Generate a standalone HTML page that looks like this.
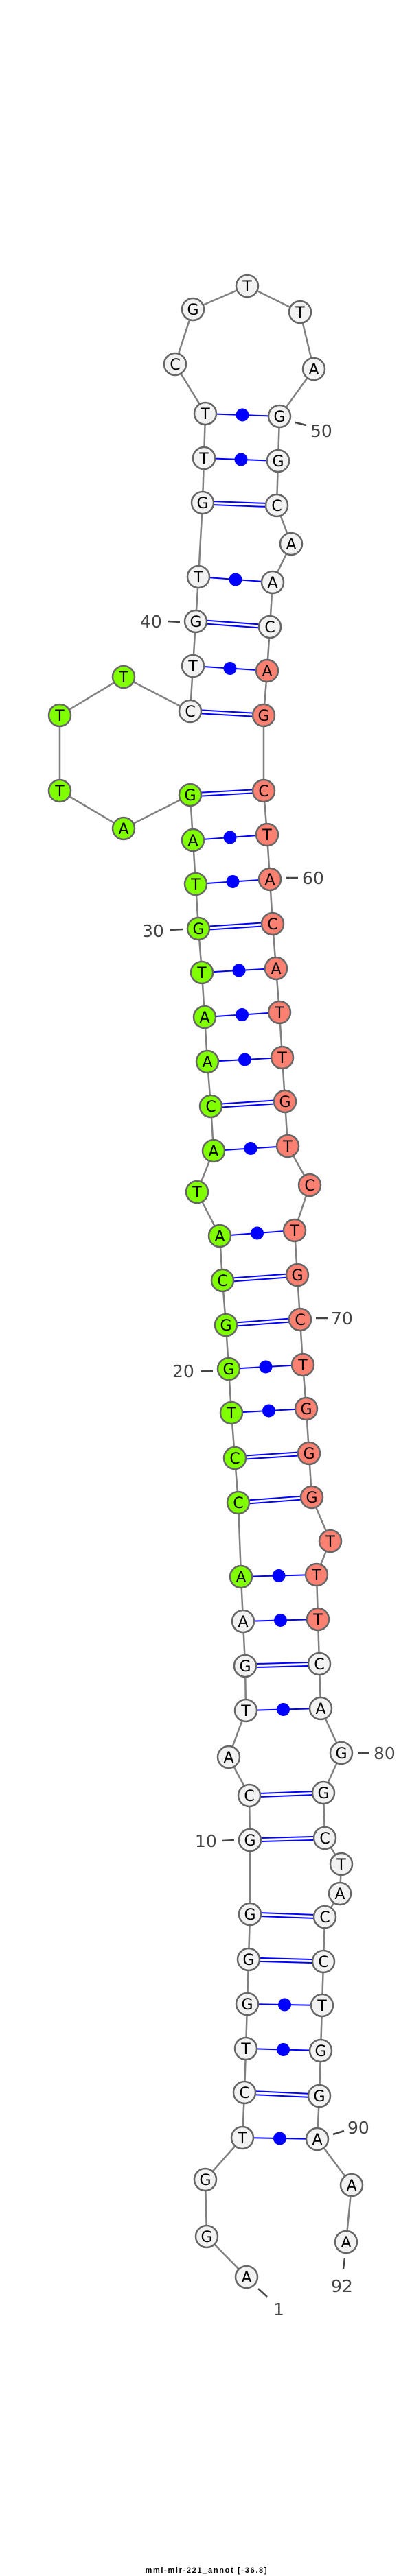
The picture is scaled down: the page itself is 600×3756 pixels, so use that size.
<!DOCTYPE html>
<html><head><meta charset="utf-8"><style>
html,body{margin:0;padding:0;background:#fff;}
svg{display:block;}
.n{stroke:#666;stroke-width:2.5;}
.w{fill:#f2f2f2;}.g{fill:#7fff00;}.r{fill:#fa8072;}
.t{font-family:"DejaVu Sans","Liberation Sans",sans-serif;font-size:22px;text-anchor:middle;fill:#000;}
.l{font-family:"DejaVu Sans","Liberation Sans",sans-serif;font-size:25px;fill:#444;}
.p{stroke:#00f;stroke-width:2;fill:none;}
.k{stroke:#444;stroke-width:2.5;}
</style></head><body>
<svg width="600" height="3756" viewBox="0 0 600 3756" xmlns="http://www.w3.org/2000/svg">
<polyline fill="none" stroke="#808080" stroke-width="2.5" points="359,3320 301,3261 299,3178 353,3117 356,3051 358,2987 360,2922 362,2857 364,2791 364,2683 363,2618 333,2562 358,2494 357,2429 354,2364 351,2299 347,2191 342,2126 337,2060 333,1996 329,1932 324,1867 320,1802 287,1738 311,1678 307,1613 302,1548 298,1483 294,1418 289,1354 285,1289 281,1225 277,1159 180,1208 87,1153 87,1043 180,987 277,1037 281,971 285,906 289,841 295,733 297,668 299,603 255,531 281,451 360,417 437,455 457,538 407,607 405,672 403,737 424,793 397,849 393,914 389,978 384,1043 384,1153 389,1217 393,1282 397,1347 402,1412 407,1476 411,1542 415,1606 419,1671 451,1728 429,1794 433,1859 437,1924 441,1990 446,2054 450,2119 454,2183 481,2247 461,2296 463,2361 465,2426 467,2491 497,2556 471,2614 473,2680 497,2718 495,2761 473,2795 471,2860 469,2924 467,2990 465,3056 462,3119 512,3186 504,3269"/>
<g class="p">
<line x1="353" y1="3117" x2="462" y2="3119"/>
<line x1="356" y1="3048.5" x2="465" y2="3053.5"/><line x1="356" y1="3053.5" x2="465" y2="3058.5"/>
<line x1="358" y1="2987" x2="467" y2="2990"/>
<line x1="360" y1="2922" x2="469" y2="2924"/>
<line x1="362" y1="2854.5" x2="471" y2="2857.5"/><line x1="362" y1="2859.5" x2="471" y2="2862.5"/>
<line x1="364" y1="2788.5" x2="473" y2="2792.5"/><line x1="364" y1="2793.5" x2="473" y2="2797.5"/>
<line x1="364" y1="2680.5" x2="473" y2="2677.5"/><line x1="364" y1="2685.5" x2="473" y2="2682.5"/>
<line x1="363" y1="2615.5" x2="471" y2="2611.5"/><line x1="363" y1="2620.5" x2="471" y2="2616.5"/>
<line x1="358" y1="2494" x2="467" y2="2491"/>
<line x1="357" y1="2426.5" x2="465" y2="2423.5"/><line x1="357" y1="2431.5" x2="465" y2="2428.5"/>
<line x1="354" y1="2364" x2="463" y2="2361"/>
<line x1="351" y1="2299" x2="461" y2="2296"/>
<line x1="347" y1="2188.5" x2="454" y2="2180.5"/><line x1="347" y1="2193.5" x2="454" y2="2185.5"/>
<line x1="342" y1="2123.5" x2="450" y2="2116.5"/><line x1="342" y1="2128.5" x2="450" y2="2121.5"/>
<line x1="337" y1="2060" x2="446" y2="2054"/>
<line x1="333" y1="1996" x2="441" y2="1990"/>
<line x1="329" y1="1929.5" x2="437" y2="1921.5"/><line x1="329" y1="1934.5" x2="437" y2="1926.5"/>
<line x1="324" y1="1864.5" x2="433" y2="1856.5"/><line x1="324" y1="1869.5" x2="433" y2="1861.5"/>
<line x1="320" y1="1802" x2="429" y2="1794"/>
<line x1="311" y1="1678" x2="419" y2="1671"/>
<line x1="307" y1="1610.5" x2="415" y2="1603.5"/><line x1="307" y1="1615.5" x2="415" y2="1608.5"/>
<line x1="302" y1="1548" x2="411" y2="1542"/>
<line x1="298" y1="1483" x2="407" y2="1476"/>
<line x1="294" y1="1418" x2="402" y2="1412"/>
<line x1="289" y1="1351.5" x2="397" y2="1344.5"/><line x1="289" y1="1356.5" x2="397" y2="1349.5"/>
<line x1="285" y1="1289" x2="393" y2="1282"/>
<line x1="281" y1="1225" x2="389" y2="1217"/>
<line x1="277" y1="1156.5" x2="384" y2="1150.5"/><line x1="277" y1="1161.5" x2="384" y2="1155.5"/>
<line x1="277" y1="1034.5" x2="384" y2="1040.5"/><line x1="277" y1="1039.5" x2="384" y2="1045.5"/>
<line x1="281" y1="971" x2="389" y2="978"/>
<line x1="285" y1="903.5" x2="393" y2="911.5"/><line x1="285" y1="908.5" x2="393" y2="916.5"/>
<line x1="289" y1="841" x2="397" y2="849"/>
<line x1="295" y1="730.5" x2="403" y2="734.5"/><line x1="295" y1="735.5" x2="403" y2="739.5"/>
<line x1="297" y1="668" x2="405" y2="672"/>
<line x1="299" y1="603" x2="407" y2="607"/>
</g>
<g fill="#00f">
<circle cx="407.5" cy="3118" r="9.5"/><circle cx="412.5" cy="2988.5" r="9.5"/><circle cx="414.5" cy="2923" r="9.5"/>
<circle cx="412.5" cy="2492.5" r="9.5"/><circle cx="408.5" cy="2362.5" r="9.5"/><circle cx="406" cy="2297.5" r="9.5"/>
<circle cx="391.5" cy="2057" r="9.5"/><circle cx="387" cy="1993" r="9.5"/><circle cx="374.5" cy="1798" r="9.5"/>
<circle cx="365" cy="1674.5" r="9.5"/><circle cx="356.5" cy="1545" r="9.5"/><circle cx="352.5" cy="1479.5" r="9.5"/>
<circle cx="348" cy="1415" r="9.5"/><circle cx="339" cy="1285.5" r="9.5"/><circle cx="335" cy="1221" r="9.5"/>
<circle cx="335" cy="974.5" r="9.5"/><circle cx="343" cy="845" r="9.5"/><circle cx="351" cy="670" r="9.5"/><circle cx="353" cy="605" r="9.5"/>
</g>
<g class="n">
<circle class="w" cx="359" cy="3320" r="16"/><circle class="w" cx="301" cy="3261" r="16"/><circle class="w" cx="299" cy="3178" r="16"/><circle class="w" cx="353" cy="3117" r="16"/><circle class="w" cx="356" cy="3051" r="16"/><circle class="w" cx="358" cy="2987" r="16"/><circle class="w" cx="360" cy="2922" r="16"/><circle class="w" cx="362" cy="2857" r="16"/><circle class="w" cx="364" cy="2791" r="16"/><circle class="w" cx="364" cy="2683" r="16"/><circle class="w" cx="363" cy="2618" r="16"/><circle class="w" cx="333" cy="2562" r="16"/><circle class="w" cx="358" cy="2494" r="16"/><circle class="w" cx="357" cy="2429" r="16"/><circle class="w" cx="354" cy="2364" r="16"/>
<circle class="g" cx="351" cy="2299" r="16"/><circle class="g" cx="347" cy="2191" r="16"/><circle class="g" cx="342" cy="2126" r="16"/><circle class="g" cx="337" cy="2060" r="16"/><circle class="g" cx="333" cy="1996" r="16"/><circle class="g" cx="329" cy="1932" r="16"/><circle class="g" cx="324" cy="1867" r="16"/><circle class="g" cx="320" cy="1802" r="16"/><circle class="g" cx="287" cy="1738" r="16"/><circle class="g" cx="311" cy="1678" r="16"/><circle class="g" cx="307" cy="1613" r="16"/><circle class="g" cx="302" cy="1548" r="16"/><circle class="g" cx="298" cy="1483" r="16"/><circle class="g" cx="294" cy="1418" r="16"/><circle class="g" cx="289" cy="1354" r="16"/><circle class="g" cx="285" cy="1289" r="16"/><circle class="g" cx="281" cy="1225" r="16"/><circle class="g" cx="277" cy="1159" r="16"/><circle class="g" cx="180" cy="1208" r="16"/><circle class="g" cx="87" cy="1153" r="16"/><circle class="g" cx="87" cy="1043" r="16"/><circle class="g" cx="180" cy="987" r="16"/>
<circle class="w" cx="277" cy="1037" r="16"/><circle class="w" cx="281" cy="971" r="16"/><circle class="w" cx="285" cy="906" r="16"/><circle class="w" cx="289" cy="841" r="16"/><circle class="w" cx="295" cy="733" r="16"/><circle class="w" cx="297" cy="668" r="16"/><circle class="w" cx="299" cy="603" r="16"/><circle class="w" cx="255" cy="531" r="16"/><circle class="w" cx="281" cy="451" r="16"/><circle class="w" cx="360" cy="417" r="16"/><circle class="w" cx="437" cy="455" r="16"/><circle class="w" cx="457" cy="538" r="16"/><circle class="w" cx="407" cy="607" r="16"/><circle class="w" cx="405" cy="672" r="16"/><circle class="w" cx="403" cy="737" r="16"/><circle class="w" cx="424" cy="793" r="16"/><circle class="w" cx="397" cy="849" r="16"/><circle class="w" cx="393" cy="914" r="16"/>
<circle class="r" cx="389" cy="978" r="16"/><circle class="r" cx="384" cy="1043" r="16"/><circle class="r" cx="384" cy="1153" r="16"/><circle class="r" cx="389" cy="1217" r="16"/><circle class="r" cx="393" cy="1282" r="16"/><circle class="r" cx="397" cy="1347" r="16"/><circle class="r" cx="402" cy="1412" r="16"/><circle class="r" cx="407" cy="1476" r="16"/><circle class="r" cx="411" cy="1542" r="16"/><circle class="r" cx="415" cy="1606" r="16"/><circle class="r" cx="419" cy="1671" r="16"/><circle class="r" cx="451" cy="1728" r="16"/><circle class="r" cx="429" cy="1794" r="16"/><circle class="r" cx="433" cy="1859" r="16"/><circle class="r" cx="437" cy="1924" r="16"/><circle class="r" cx="441" cy="1990" r="16"/><circle class="r" cx="446" cy="2054" r="16"/><circle class="r" cx="450" cy="2119" r="16"/><circle class="r" cx="454" cy="2183" r="16"/><circle class="r" cx="481" cy="2247" r="16"/><circle class="r" cx="461" cy="2296" r="16"/><circle class="r" cx="463" cy="2361" r="16"/>
<circle class="w" cx="465" cy="2426" r="16"/><circle class="w" cx="467" cy="2491" r="16"/><circle class="w" cx="497" cy="2556" r="16"/><circle class="w" cx="471" cy="2614" r="16"/><circle class="w" cx="473" cy="2680" r="16"/><circle class="w" cx="497" cy="2718" r="16"/><circle class="w" cx="495" cy="2761" r="16"/><circle class="w" cx="473" cy="2795" r="16"/><circle class="w" cx="471" cy="2860" r="16"/><circle class="w" cx="469" cy="2924" r="16"/><circle class="w" cx="467" cy="2990" r="16"/><circle class="w" cx="465" cy="3056" r="16"/><circle class="w" cx="462" cy="3119" r="16"/><circle class="w" cx="512" cy="3186" r="16"/><circle class="w" cx="504" cy="3269" r="16"/>
</g>
<g class="t">
<text x="359" y="3328">A</text><text x="301" y="3269">G</text><text x="299" y="3186">G</text><text x="353" y="3125">T</text><text x="356" y="3059">C</text><text x="358" y="2995">T</text><text x="360" y="2930">G</text><text x="362" y="2865">G</text><text x="364" y="2799">G</text><text x="364" y="2691">G</text><text x="363" y="2626">C</text><text x="333" y="2570">A</text><text x="358" y="2502">T</text><text x="357" y="2437">G</text><text x="354" y="2372">A</text>
<text x="351" y="2307">A</text><text x="347" y="2199">C</text><text x="342" y="2134">C</text><text x="337" y="2068">T</text><text x="333" y="2004">G</text><text x="329" y="1940">G</text><text x="324" y="1875">C</text><text x="320" y="1810">A</text><text x="287" y="1746">T</text><text x="311" y="1686">A</text><text x="307" y="1621">C</text><text x="302" y="1556">A</text><text x="298" y="1491">A</text><text x="294" y="1426">T</text><text x="289" y="1362">G</text><text x="285" y="1297">T</text><text x="281" y="1233">A</text><text x="277" y="1167">G</text><text x="180" y="1216">A</text><text x="87" y="1161">T</text><text x="87" y="1051">T</text><text x="180" y="995">T</text>
<text x="277" y="1045">C</text><text x="281" y="979">T</text><text x="285" y="914">G</text><text x="289" y="849">T</text><text x="295" y="741">G</text><text x="297" y="676">T</text><text x="299" y="611">T</text><text x="255" y="539">C</text><text x="281" y="459">G</text><text x="360" y="425">T</text><text x="437" y="463">T</text><text x="457" y="546">A</text><text x="407" y="615">G</text><text x="405" y="680">G</text><text x="403" y="745">C</text><text x="424" y="801">A</text><text x="397" y="857">A</text><text x="393" y="922">C</text>
<text x="389" y="986">A</text><text x="384" y="1051">G</text><text x="384" y="1161">C</text><text x="389" y="1225">T</text><text x="393" y="1290">A</text><text x="397" y="1355">C</text><text x="402" y="1420">A</text><text x="407" y="1484">T</text><text x="411" y="1550">T</text><text x="415" y="1614">G</text><text x="419" y="1679">T</text><text x="451" y="1736">C</text><text x="429" y="1802">T</text><text x="433" y="1867">G</text><text x="437" y="1932">C</text><text x="441" y="1998">T</text><text x="446" y="2062">G</text><text x="450" y="2127">G</text><text x="454" y="2191">G</text><text x="481" y="2255">T</text><text x="461" y="2304">T</text><text x="463" y="2369">T</text>
<text x="465" y="2434">C</text><text x="467" y="2499">A</text><text x="497" y="2564">G</text><text x="471" y="2622">G</text><text x="473" y="2688">C</text><text x="497" y="2726">T</text><text x="495" y="2769">A</text><text x="473" y="2803">C</text><text x="471" y="2868">C</text><text x="469" y="2932">T</text><text x="467" y="2998">G</text><text x="465" y="3064">G</text><text x="462" y="3127">A</text><text x="512" y="3194">A</text><text x="504" y="3277">A</text>
</g>
<g class="k">
<line x1="430" y1="616" x2="446" y2="620"/>
<line x1="245" y1="906" x2="262" y2="907"/>
<line x1="417" y1="1280" x2="434" y2="1280"/>
<line x1="248" y1="1356" x2="266" y2="1355"/>
<line x1="460" y1="1922" x2="477" y2="1922"/>
<line x1="293" y1="1999" x2="310" y2="1999"/>
<line x1="521" y1="2556" x2="538" y2="2556"/>
<line x1="324" y1="2684" x2="341" y2="2683"/>
<line x1="485" y1="3112" x2="501" y2="3107"/>
<line x1="376" y1="3337" x2="389" y2="3349"/>
<line x1="502" y1="3292" x2="500" y2="3308"/>
</g>
<g class="l">
<text x="452" y="637">50</text>
<text x="204" y="915">40</text>
<text x="440" y="1289">60</text>
<text x="207" y="1366">30</text>
<text x="482" y="1931">70</text>
<text x="251" y="2008">20</text>
<text x="544" y="2565">80</text>
<text x="284" y="2693">10</text>
<text x="506" y="3111">90</text>
<text x="398" y="3376">1</text>
<text x="482" y="3342">92</text>
</g>
<text x="300" y="3751" text-anchor="middle" font-family="Liberation Sans, sans-serif" font-size="11" font-weight="bold" textLength="177" lengthAdjust="spacing">mml-mir-221_annot [-36.8]</text>
</svg>
</body></html>
